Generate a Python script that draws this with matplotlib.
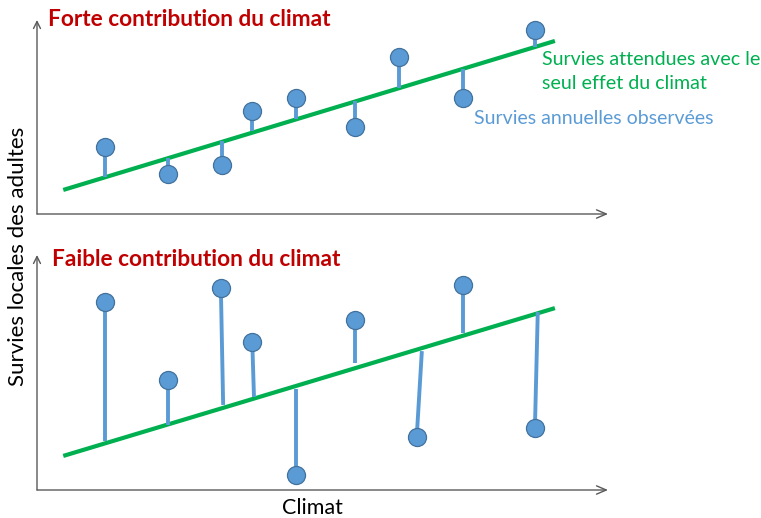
import matplotlib
matplotlib.use("Agg")
import matplotlib.pyplot as plt

plt.rcParams['font.family'] = ['Lato', 'DejaVu Sans']

# ---- data (x: climat, y: survie, 0-100 arbitrary units) ----
line_x = [4.6, 90.7]

top_obs_x = [11.9, 22.9, 32.4, 37.7, 45.4, 55.7, 63.4, 74.6, 87.2]
top_obs_y = [34.5, 20.6, 25.3, 53.1, 59.8, 44.8, 80.9, 59.8, 94.8]
top_exp_y = [19.1, 28.9, 37.6, 42.8, 49.0, 58.2, 64.9, 74.7, 86.1]
top_line_y = [12.4, 89.2]

bot_obs_x = [11.9, 22.9, 32.2, 37.7, 45.4, 55.7, 66.5, 74.6, 87.2]
bot_stem_x = [11.9, 22.9, 32.6, 38.0, 45.4, 55.7, 67.4, 74.6, 87.7]
bot_obs_y = [80.0, 46.8, 86.0, 63.0, 6.4, 72.3, 22.6, 87.2, 26.4]
bot_exp_y = [20.9, 27.7, 36.2, 39.6, 43.0, 54.0, 59.1, 66.8, 75.7]
bot_line_y = [14.5, 77.4]

titles = ["Forte contribution du climat", "Faible contribution du climat"]
label_exp = "Survies attendues avec le\nseul effet du climat"
label_obs = "Survies annuelles observées"
xlabel = "Climat"
ylabel = "Survies locales des adultes"

GREEN = "#00B050"
BLUE = "#5B9BD5"
EDGE = "#41719C"
RED = "#C00000"
AXC = "#595959"

W, H = 761, 518
fig = plt.figure(figsize=(W / 100, H / 100), dpi=100)

def px_axes(x0, y0, x1, y1):
    return fig.add_axes([x0 / W, 1 - y1 / H, (x1 - x0) / W, (y1 - y0) / H])

ax_top = px_axes(37, 20, 608, 214)
ax_bot = px_axes(37, 255, 608, 490)

def draw(ax, ox, sx, oy, ey, ly):
    ax.set_xlim(0, 100)
    ax.set_ylim(0, 100)
    ax.axis('off')
    ax.plot(line_x, ly, color=GREEN, lw=3.0, solid_capstyle='butt', zorder=2)
    for a, b, c, d in zip(ox, sx, oy, ey):
        ax.plot([a, b], [c, d], color=BLUE, lw=2.8, solid_capstyle='butt', zorder=3)
    ax.plot(ox, oy, 'o', ms=13, mfc=BLUE, mec=EDGE, mew=0.9, zorder=4, clip_on=False)
    ax.annotate('', xy=(1, 0), xytext=(0, 0), xycoords='axes fraction',
                arrowprops=dict(arrowstyle='->,head_length=0.7,head_width=0.3',
                                color=AXC, lw=1.0, shrinkA=0, shrinkB=0))
    ax.annotate('', xy=(0, 1), xytext=(0, 0), xycoords='axes fraction',
                arrowprops=dict(arrowstyle='->,head_length=0.5,head_width=0.25',
                                color=AXC, lw=1.0, shrinkA=0, shrinkB=0))

draw(ax_top, top_obs_x, top_obs_x, top_obs_y, top_exp_y, top_line_y)
draw(ax_bot, bot_obs_x, bot_stem_x, bot_obs_y, bot_exp_y, bot_line_y)

fig.text(48 / W, 1 - 20 / H, titles[0], color=RED, fontsize=16.3, fontweight='bold', va='center', ha='left')
fig.text(52 / W, 1 - 260 / H, titles[1], color=RED, fontsize=16.3, fontweight='bold', va='center', ha='left')
fig.text(542 / W, 1 - 72 / H, label_exp, color=GREEN, fontsize=14.1, va='center', ha='left', linespacing=1.5)
fig.text(474 / W, 1 - 118 / H, label_obs, color=BLUE, fontsize=14.0, va='center', ha='left')
fig.text(312 / W, 1 - 508 / H, xlabel, color='black', fontsize=15.5, va='center', ha='center')
fig.text(18 / W, 1 - 256 / H, ylabel, color='black', fontsize=16, va='center', ha='center', rotation=90)

fig.savefig("out.png", dpi=100)
